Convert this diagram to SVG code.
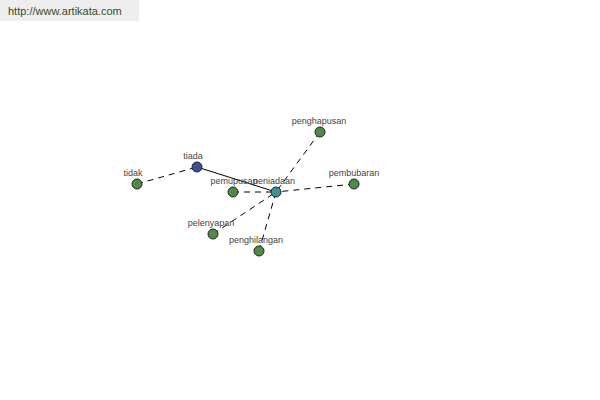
<svg xmlns="http://www.w3.org/2000/svg" width="600" height="400" viewBox="0 0 600 400">
<style>
.lbl{font-family:"Liberation Sans",Arial,sans-serif;font-size:9px;fill:#444;text-anchor:middle}
.n{stroke:#222;stroke-width:1}
.g{fill:#4e8a48}
.e{stroke:#000;stroke-width:1;fill:none}
.d{stroke-dasharray:6,5}
</style>
<rect x="0" y="0" width="600" height="400" fill="#fff"/>
<g id="header">
<rect x="0" y="0" width="139" height="21" fill="#eeeeee"/>
<text x="8" y="15" style="font-family:'Liberation Sans',Arial,sans-serif;font-size:11px;fill:#3a4a2a">http://www.artikata.com</text>
</g>
<g id="connectors">
<line class="e" x1="197" y1="167" x2="276" y2="192"/>
<line class="e d" x1="137" y1="184" x2="197" y2="167"/>
<line class="e d" x1="233" y1="192" x2="276" y2="192"/>
<line class="e d" x1="320" y1="132" x2="276" y2="192"/>
<line class="e d" x1="354" y1="184" x2="276" y2="192"/>
<line class="e d" x1="213" y1="234" x2="276" y2="192"/>
<line class="e d" x1="259" y1="251" x2="276" y2="192"/>
</g>
<g id="tidak"><circle class="n g" cx="137" cy="184" r="5"/><text class="lbl" x="133" y="176">tidak</text></g>
<g id="tiada"><circle class="n" cx="197" cy="167" r="5" fill="#3f4f92"/><text class="lbl" x="193" y="159">tiada</text></g>
<g id="pemupusan"><circle class="n g" cx="233" cy="192" r="5"/><text class="lbl" x="234" y="184">pemupusan</text></g>
<g id="peniadaan"><circle class="n" cx="276" cy="192" r="5" fill="#3a9590"/><text class="lbl" x="274" y="184">peniadaan</text></g>
<g id="penghapusan"><circle class="n g" cx="320" cy="132" r="5"/><text class="lbl" x="319" y="124">penghapusan</text></g>
<g id="pembubaran"><circle class="n g" cx="354" cy="184" r="5"/><text class="lbl" x="354" y="176">pembubaran</text></g>
<g id="pelenyapan"><circle class="n g" cx="213" cy="234" r="5"/><text class="lbl" x="211" y="226">pelenyapan</text></g>
<g id="penghilangan"><circle class="n g" cx="259" cy="251" r="5"/><text class="lbl" x="256" y="243">penghilangan</text></g>
</svg>
